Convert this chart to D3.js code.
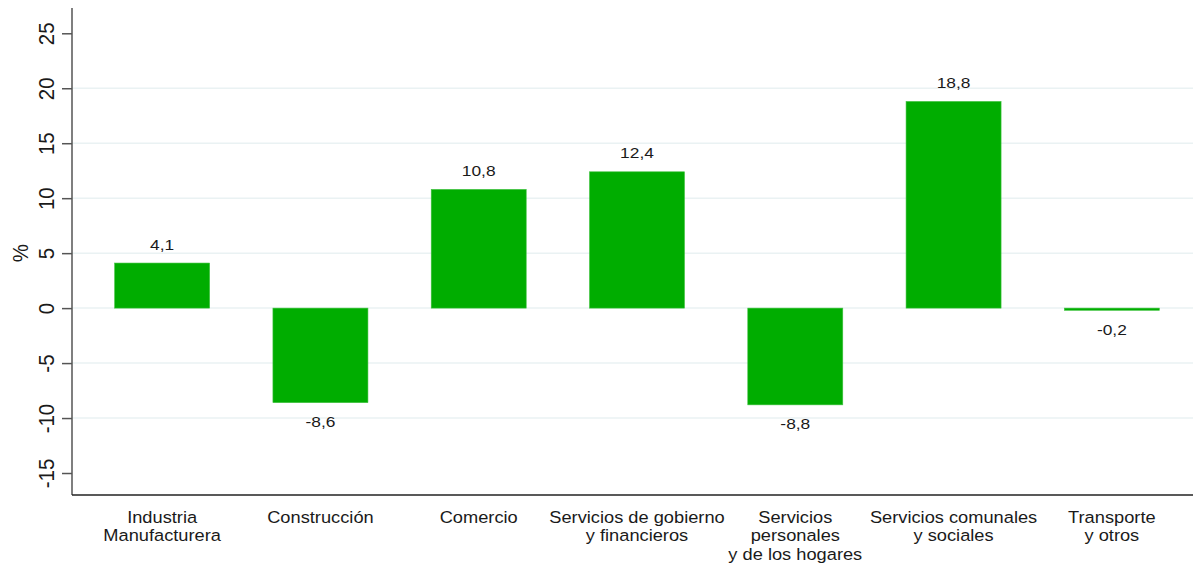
<!DOCTYPE html>
<html>
<head>
<meta charset="utf-8">
<script src="https://cdn.jsdelivr.net/npm/d3@7"></script>
<style>
  body { margin: 0; background: #fff; }
  svg { font-family: "Liberation Sans", Arial, sans-serif; }
</style>
</head>
<body>
<div id="chart"></div>
<script>
var categories = [
    ['Industria', 'Manufacturera'],
    ['Construcción'],
    ['Comercio'],
    ['Servicios de gobierno', 'y financieros'],
    ['Servicios', 'personales', 'y de los hogares'],
    ['Servicios comunales', 'y sociales'],
    ['Transporte', 'y otros']
];
var values = [4.1, -8.6, 10.8, 12.4, -8.8, 18.8, -0.2];
var yTicks = [-15, -10, -5, 0, 5, 10, 15, 20, 25];
var gridTicks = [-10, -5, 0, 5, 10, 15, 20];

var width = 1193,
    height = 566,
    margin = { top: 8, right: 2, bottom: 71, left: 72 };
var sx = 1.12; // text in the picture is a bit wider than tall

var svg = d3.select('#chart').append('svg')
    .attr('width', width)
    .attr('height', height);

var x = d3.scaleBand().domain(d3.range(values.length))
    .range([83, 1191]).paddingInner(0.4).paddingOuter(0.2);
var y = d3.scaleLinear().domain([-17, 27.3])
    .range([height - margin.bottom, margin.top]);
var cx = i => x(i) + x.bandwidth() / 2;

// grid
svg.append('g')
    .selectAll('line')
    .data(gridTicks)
    .enter().append('line')
    .attr('x1', margin.left)
    .attr('x2', width)
    .attr('y1', d => y(d))
    .attr('y2', d => y(d))
    .attr('stroke', '#eaf2f3')
    .attr('stroke-width', 1.5);

// bars
svg.append('g')
    .selectAll('rect')
    .data(values)
    .enter().append('rect')
    .attr('x', (d, i) => cx(i) - 47.5)
    .attr('y', d => y(Math.max(0, d)))
    .attr('width', 95)
    .attr('height', d => Math.max(1.5, Math.abs(y(d) - y(0))))
    .attr('fill', '#00ad00')
    .attr('stroke', '#3fc23f')
    .attr('stroke-width', 0.6);

// value labels
svg.append('g')
    .selectAll('text')
    .data(values)
    .enter().append('text')
    .attr('transform', (d, i) => `translate(${cx(i)},${d >= 0 ? y(d) - 13.5 : y(d) + 24.5}) scale(${sx},1)`)
    .attr('text-anchor', 'middle')
    .attr('font-size', 15.5)
    .attr('fill', '#1a1a1a')
    .text(d => d.toFixed(1).replace('.', ','));

// y axis
var yAxis = svg.append('g')
    .attr('transform', `translate(${margin.left},0)`)
    .call(d3.axisLeft(y).tickValues(yTicks).tickSize(10).tickFormat(d => String(d)));
yAxis.select('.domain').attr('stroke', '#555').attr('stroke-width', 1.5)
    .attr('d', `M0,${y(27.3)}V${y(-17)}`);
yAxis.selectAll('.tick line').attr('stroke', '#555').attr('stroke-width', 1.5);
yAxis.selectAll('.tick text')
    .attr('font-size', 20.5)
    .attr('fill', '#1a1a1a')
    .attr('x', null)
    .attr('y', null)
    .attr('dy', '0.36em')
    .attr('transform', `translate(-26,0) scale(${sx},1) rotate(-90)`)
    .attr('text-anchor', 'middle');

svg.append('text')
    .attr('transform', `translate(20,${y(5)}) scale(${sx},1) rotate(-90)`)
    .attr('dy', '0.36em')
    .attr('text-anchor', 'middle')
    .attr('font-size', 20.5)
    .attr('fill', '#1a1a1a')
    .text('%');

// x axis
svg.append('line')
    .attr('x1', margin.left)
    .attr('x2', width)
    .attr('y1', y(-17))
    .attr('y2', y(-17))
    .attr('stroke', '#222')
    .attr('stroke-width', 1.5);

var catLabels = svg.append('g')
    .selectAll('text')
    .data(categories)
    .enter().append('text')
    .attr('transform', (d, i) => `translate(${cx(i)},523) scale(${sx},1)`)
    .attr('text-anchor', 'middle')
    .attr('font-size', 16.3)
    .attr('fill', '#1a1a1a');
catLabels.each(function(lines) {
    var t = d3.select(this);
    lines.forEach(function(line, j) {
        t.append('tspan')
            .attr('x', 0)
            .attr('y', j * 18.5)
            .text(line);
    });
});
</script>
</body>
</html>
